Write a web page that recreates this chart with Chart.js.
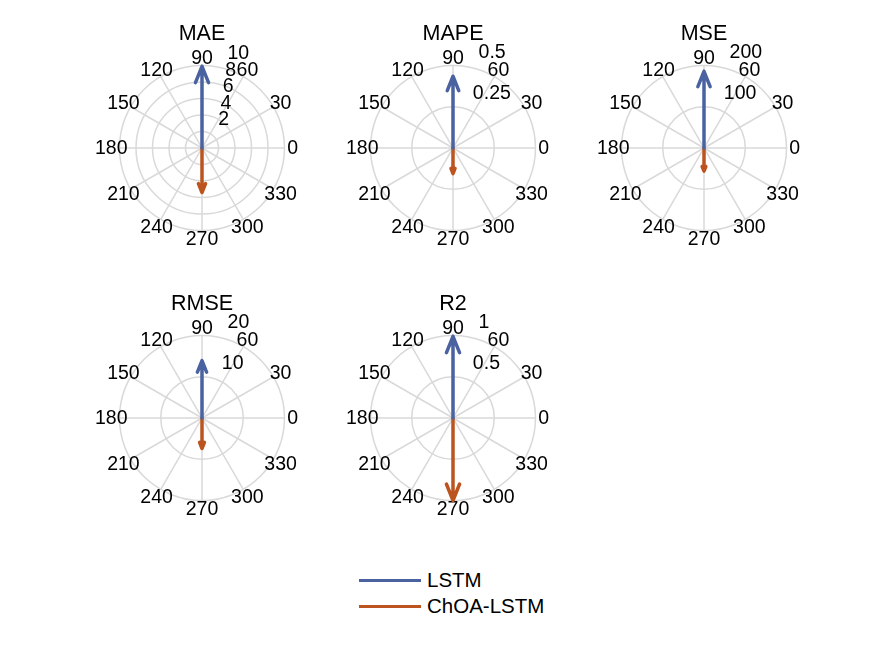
<!DOCTYPE html>
<html><head><meta charset="utf-8">
<script src="https://cdn.jsdelivr.net/npm/chart.js@4.4.0/dist/chart.umd.min.js"></script>
<style>
html,body{margin:0;padding:0;background:#fff;width:875px;height:656px;overflow:hidden;font-family:"Liberation Sans",Arial,Helvetica,sans-serif}
canvas.pane{position:absolute}
#legend{position:absolute;left:359px;top:567px;font-size:20.5px;color:#000}
.item{height:26px;display:flex;align-items:center;white-space:nowrap}
.swatch{width:62px;height:3px;margin-right:6px}
</style></head><body>
<div id="legend"></div>
<script>
// ---- data ----
const metrics = ['MAE', 'MAPE', 'MSE', 'RMSE', 'R2'];
const seriesNames = ['LSTM', 'ChOA-LSTM'];
const lstmValues = [9.9, 0.435, 186, 13.9, 0.99];
const choaValues = [5.4, 0.155, 56, 7.4, 1.0];
const seriesAngles = [90, 270];           // direction of each series' arrow (degrees)
const radialMax = [10, 0.5, 200, 20, 1];
const radialTicks = [[2, 4, 6, 8, 10], [0.25, 0.5], [100, 200], [10, 20], [0.5, 1]];
const radialTickLabels = [['2', '4', '6', '8', '10'], ['0.25', '0.5'], ['100', '200'], ['10', '20'], ['0.5', '1']];
const angleTicks = [0, 30, 60, 90, 120, 150, 180, 210, 240, 270, 300, 330];
const angleTickLabels = ['0', '30', '60', '90', '120', '150', '180', '210', '240', '270', '300', '330'];

// ---- styles / layout ----
const seriesColors = ['#4A62A0', '#BC5420'];
const gridColor = '#D9D9D9';
const FONT = '"Liberation Sans", Arial, Helvetica, sans-serif';
const tickSize = 19.5, titleSize = 21.5;
const centers = [[202, 148], [453, 148], [704, 148], [202, 418], [453, 418]];
const HALF = 100;        // half chart-area size in px
const RPX = 82.5;        // outer ring radius in px
const SIDE = 30, BOTTOM = 30;
const titlePadBottom = 1.2;

function arrowPoints(value, deg) {
  const a = deg * Math.PI / 180;
  const zx = value * Math.cos(a), zy = value * Math.sin(a);
  const ix = -zy, iy = zx; // i*z
  return [
    {x: 0, y: 0},
    {x: zx, y: zy},
    {x: 0.8 * zx + 0.08 * ix, y: 0.8 * zy + 0.08 * iy},
    {x: zx, y: zy},
    {x: 0.8 * zx - 0.08 * ix, y: 0.8 * zy - 0.08 * iy}
  ];
}

function polarPlugin(k) {
  return {
    id: 'polarGrid' + k,
    beforeDatasetsDraw(chart) {
      const ctx = chart.ctx, xs = chart.scales.x, ys = chart.scales.y;
      const rmax = radialMax[k];
      const px = (x) => xs.getPixelForValue(x), py = (y) => ys.getPixelForValue(y);
      const cx = px(0), cy = py(0);
      ctx.save();
      ctx.strokeStyle = gridColor;
      ctx.lineWidth = 1.5;
      // spokes
      for (let d = 30; d <= 180; d += 30) {
        const a = d * Math.PI / 180;
        ctx.beginPath();
        ctx.moveTo(px(-rmax * Math.cos(a)), py(-rmax * Math.sin(a)));
        ctx.lineTo(px(rmax * Math.cos(a)), py(rmax * Math.sin(a)));
        ctx.stroke();
      }
      // rings
      radialTicks[k].forEach(r => {
        ctx.beginPath();
        ctx.arc(cx, cy, px(r) - cx, 0, Math.PI * 2);
        ctx.stroke();
      });
      // angle labels
      ctx.fillStyle = '#000';
      ctx.font = tickSize + 'px ' + FONT;
      ctx.textAlign = 'center';
      ctx.textBaseline = 'middle';
      angleTicks.forEach((d, i) => {
        const a = d * Math.PI / 180;
        ctx.fillText(angleTickLabels[i], px(1.1 * rmax * Math.cos(a)), py(1.1 * rmax * Math.sin(a)) + 1);
      });
      // radial labels along 82 degrees
      ctx.textAlign = 'left';
      ctx.textBaseline = 'alphabetic';
      const a82 = 82 * Math.PI / 180;
      const rinc = radialTicks[k][1] - radialTicks[k][0];
      radialTicks[k].forEach((r, i) => {
        const rr = r + rinc / 20;
        ctx.fillText('  ' + radialTickLabels[k][i], px(rr * Math.cos(a82)) + 3, py(rr * Math.sin(a82)) - 6);
      });
      ctx.restore();
    }
  };
}

const titleLine = titleSize * 1.2;
metrics.forEach((m, k) => {
  const [cx, cy] = centers[k];
  const canvas = document.createElement('canvas');
  canvas.className = 'pane';
  const w = 2 * HALF + 2 * SIDE;
  const titleH = titleLine + titlePadBottom;
  const h = titleH + 2 * HALF + BOTTOM;
  canvas.width = w; canvas.height = h;
  canvas.style.width = w + 'px'; canvas.style.height = h + 'px';
  canvas.style.left = (cx - HALF - SIDE) + 'px';
  canvas.style.top = (cy - HALF - titleH) + 'px';
  document.body.appendChild(canvas);
  const S = radialMax[k] * HALF / RPX;
  const values = [lstmValues[k], choaValues[k]];
  new Chart(canvas, {
    type: 'scatter',
    data: {
      datasets: seriesNames.map((n, s) => ({
        label: n,
        data: arrowPoints(values[s], seriesAngles[s]),
        showLine: true,
        borderColor: seriesColors[s],
        backgroundColor: seriesColors[s],
        borderWidth: 3.5,
        borderJoinStyle: 'round',
        borderCapStyle: 'round',
        pointRadius: 0,
        pointHoverRadius: 0,
        fill: false,
        tension: 0,
        clip: false
      }))
    },
    options: {
      responsive: false,
      animation: false,
      devicePixelRatio: 1,
      layout: {padding: {left: SIDE, right: SIDE, top: 0, bottom: BOTTOM}, autoPadding: false},
      scales: {
        x: {type: 'linear', min: -S, max: S, display: false},
        y: {type: 'linear', min: -S, max: S, display: false}
      },
      plugins: {
        legend: {display: false},
        tooltip: {enabled: false},
        title: {
          display: true, text: m, color: '#000',
          font: {family: FONT, size: titleSize, weight: 'normal', lineHeight: 1.2},
          padding: {top: 0, bottom: titlePadBottom}
        }
      }
    },
    plugins: [polarPlugin(k)]
  });
});

// legend
const lg = document.getElementById('legend');
seriesNames.forEach((n, s) => {
  const it = document.createElement('div');
  it.className = 'item';
  const sw = document.createElement('div');
  sw.className = 'swatch';
  sw.style.background = seriesColors[s];
  const tx = document.createElement('span');
  tx.textContent = n;
  it.appendChild(sw); it.appendChild(tx);
  lg.appendChild(it);
});
</script>
</body></html>
